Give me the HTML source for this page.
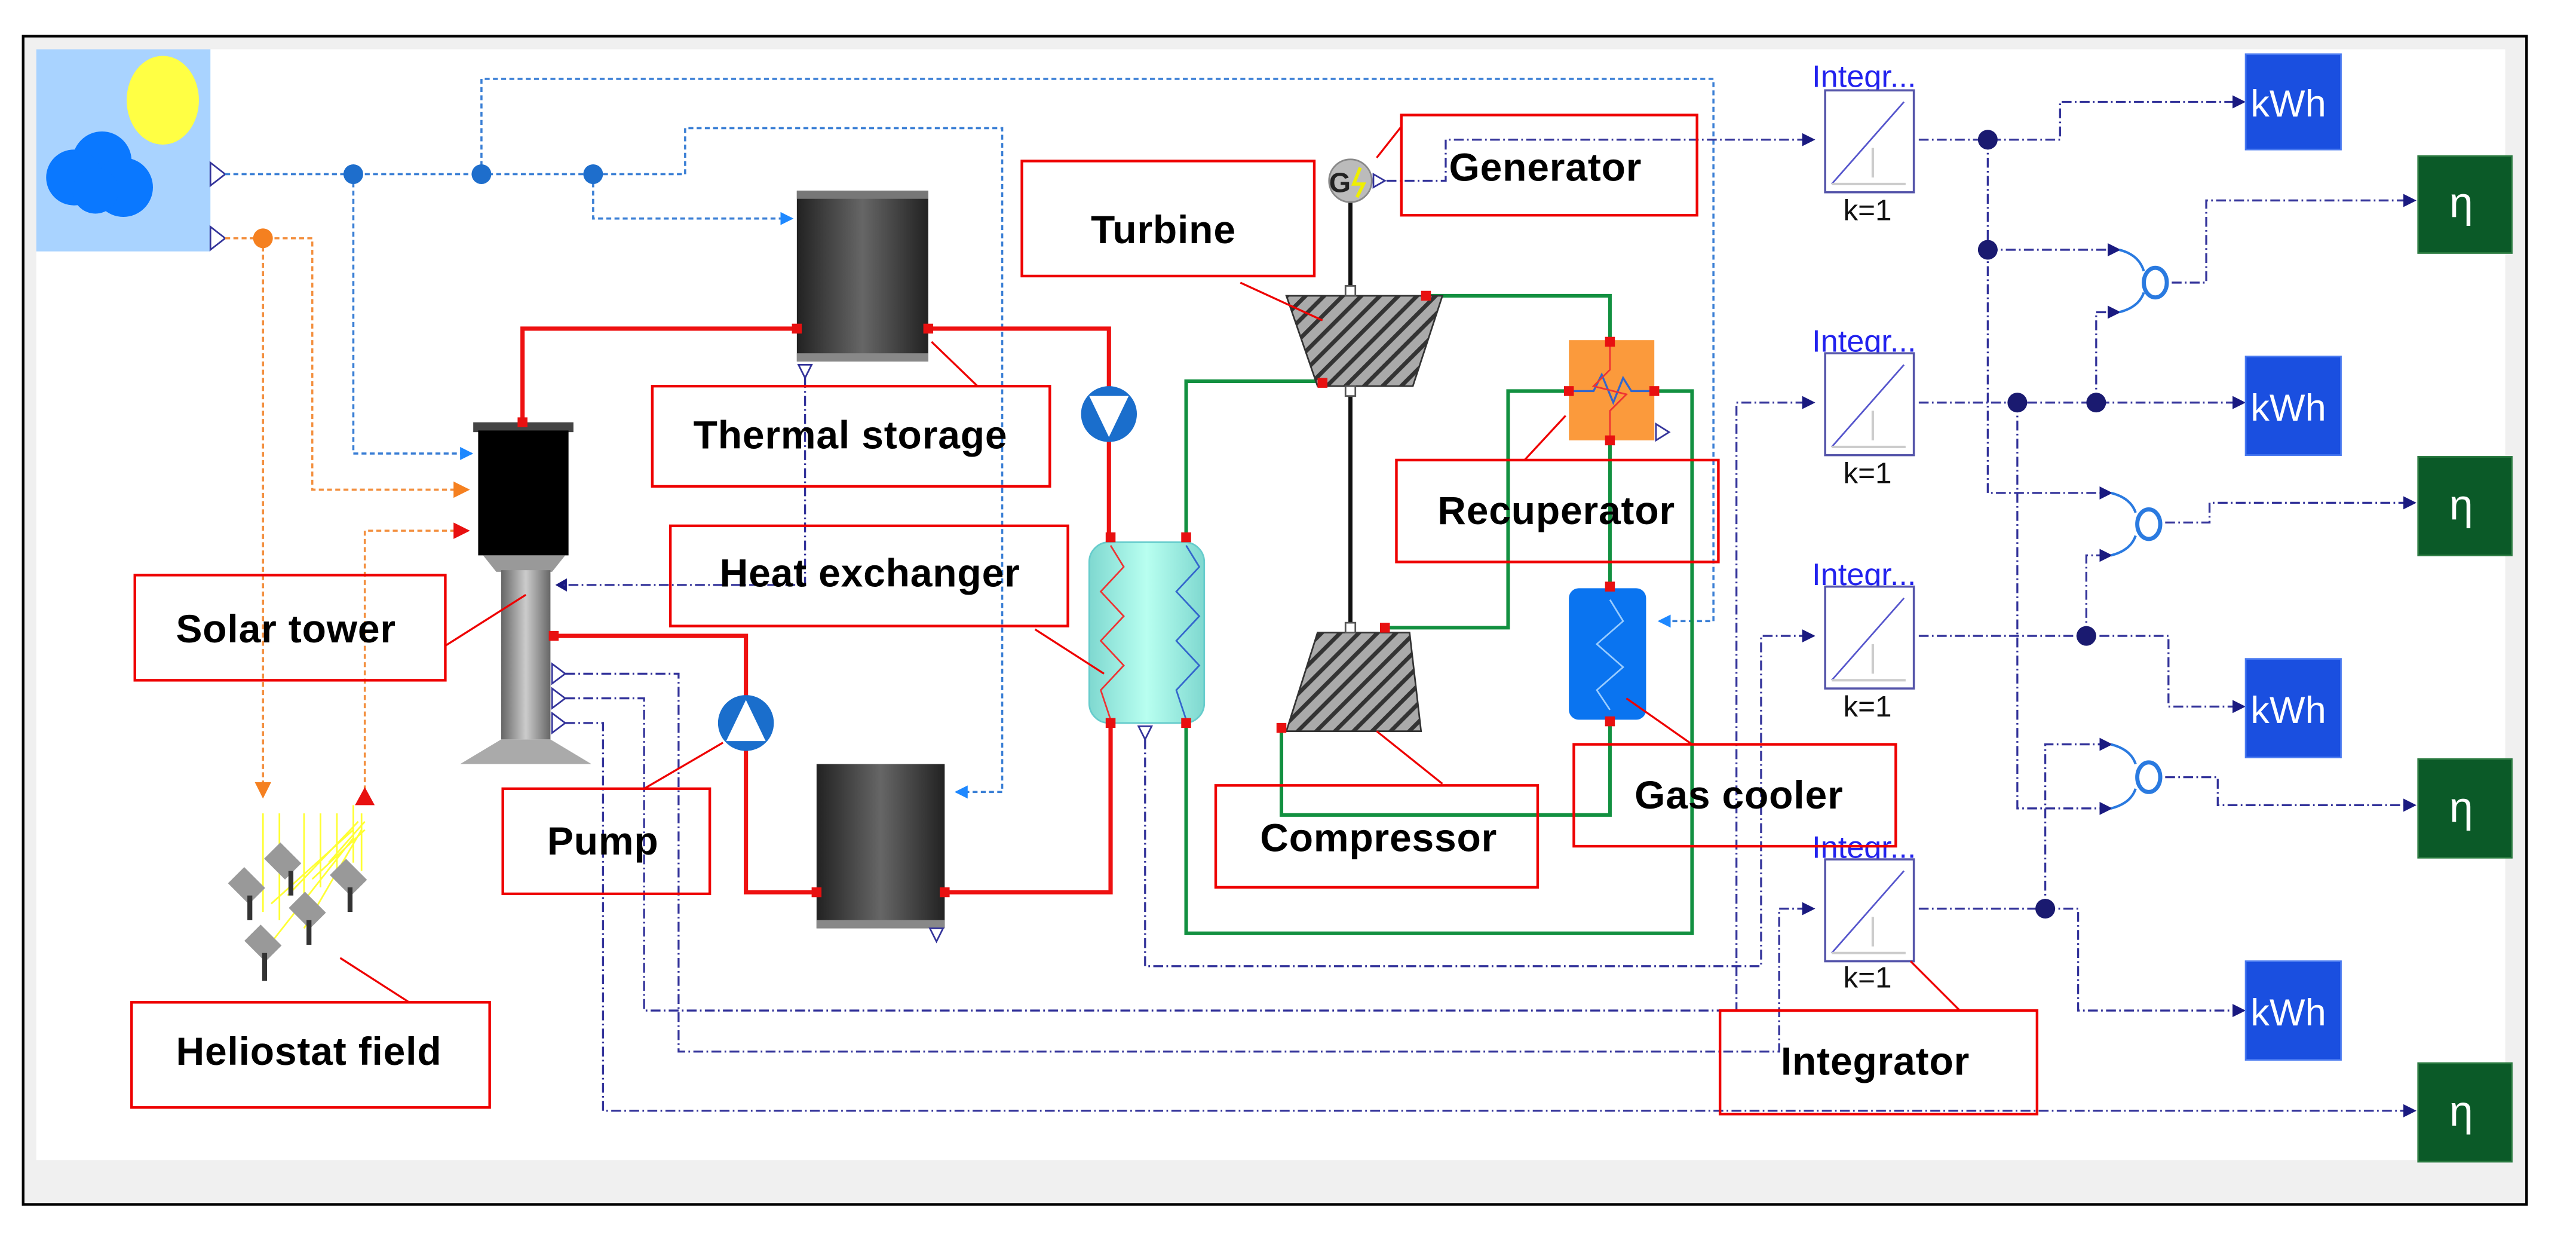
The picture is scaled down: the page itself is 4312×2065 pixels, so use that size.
<!DOCTYPE html>
<html><head><meta charset="utf-8"><style>
html,body{margin:0;padding:0;background:#fff}
svg{display:block}
text{font-family:"Liberation Sans",sans-serif}
.lb{font-weight:bold;font-size:24px;fill:#000;letter-spacing:0.3px}
.box{fill:none;stroke:#e00;stroke-width:1.6}
.ld{stroke:#e00;stroke-width:1.2}
.bd{fill:none;stroke:#3a7fd5;stroke-width:1.3;stroke-dasharray:3,2}
.od{fill:none;stroke:#f39040;stroke-width:1.3;stroke-dasharray:3,2}
.nv{fill:none;stroke:#33339a;stroke-width:1.2;stroke-dasharray:6,2,1,2}
.rd{fill:none;stroke:#ee1111;stroke-width:2.6}
.gr{fill:none;stroke:#129040;stroke-width:2.2}
</style></head><body>
<svg width="4312" height="2065" viewBox="0 0 1568 751" xmlns="http://www.w3.org/2000/svg">
<defs>
<marker id="an" markerWidth="8" markerHeight="8" refX="7" refY="4" orient="auto" markerUnits="userSpaceOnUse"><path d="M0,0L8,4L0,8z" fill="#1a1a80"/></marker>
<marker id="ab" markerWidth="8" markerHeight="8" refX="7" refY="4" orient="auto" markerUnits="userSpaceOnUse"><path d="M0,0L8,4L0,8z" fill="#1e88ff"/></marker>
<marker id="ao" markerWidth="10" markerHeight="10" refX="9" refY="5" orient="auto" markerUnits="userSpaceOnUse"><path d="M0,0L10,5L0,10z" fill="#f58020"/></marker>
<marker id="ar" markerWidth="10" markerHeight="10" refX="9" refY="5" orient="auto" markerUnits="userSpaceOnUse"><path d="M0,0L10,5L0,10z" fill="#e81010"/></marker>
<linearGradient id="tank" x1="0" x2="1"><stop offset="0" stop-color="#222"/><stop offset="0.5" stop-color="#666"/><stop offset="1" stop-color="#222"/></linearGradient>
<linearGradient id="col" x1="0" x2="1"><stop offset="0" stop-color="#666"/><stop offset="0.5" stop-color="#ccc"/><stop offset="1" stop-color="#666"/></linearGradient>
<linearGradient id="hx" x1="0" x2="1"><stop offset="0" stop-color="#7fd8d0"/><stop offset="0.5" stop-color="#b8fff0"/><stop offset="1" stop-color="#7fd8d0"/></linearGradient>
<pattern id="hatch" width="8" height="8" patternUnits="userSpaceOnUse" patternTransform="rotate(45)"><rect width="8" height="8" fill="#aaa"/><rect width="2.5" height="8" fill="#333"/></pattern>
</defs>
<rect x="0" y="0" width="1568" height="751" fill="#fff"/>
<rect x="14" y="22" width="1524" height="711" fill="#f0f0f0" stroke="#000" stroke-width="1.6"/>
<rect x="22" y="30" width="1503" height="676" fill="#fff"/>

<rect x="22" y="30" width="106" height="123" fill="#a9d3ff"/>
<ellipse cx="99" cy="61" rx="22" ry="27" fill="#ffff44"/>
<circle cx="62" cy="98" r="18" fill="#0a78ff"/><circle cx="45" cy="108" r="17" fill="#0a78ff"/><circle cx="75" cy="114" r="18" fill="#0a78ff"/><circle cx="58" cy="116" r="14" fill="#0a78ff"/>
<path d="M128,99L137,106L128,113z" fill="#fff" stroke="#33339a"/>
<path d="M128,138L137,145L128,152z" fill="#fff" stroke="#33339a"/>

<path class="bd" d="M137,106H417V78H610V482H582" marker-end="url(#ab)"/>
<path class="bd" d="M293,106V48H1043V378H1010" marker-end="url(#ab)"/>
<path class="bd" d="M361,106V133H482" marker-end="url(#ab)"/>
<path class="bd" d="M215,106V276H287" marker-end="url(#ab)"/>
<circle cx="215" cy="106" r="6" fill="#1e6ecc"/><circle cx="293" cy="106" r="6" fill="#1e6ecc"/><circle cx="361" cy="106" r="6" fill="#1e6ecc"/>
<path class="od" d="M137,145H190V298H285" marker-end="url(#ao)"/>
<path class="od" d="M160,145V478"/>
<path d="M155,476L165,476L160,486z" fill="#f58020"/>
<path class="od" d="M222,486V323H285" marker-end="url(#ar)"/>
<path d="M216,490L228,490L222,479z" fill="#e81010"/>
<circle cx="160" cy="145" r="6" fill="#f58020"/>

<g stroke="#ffff33" stroke-width="1">
<path d="M160,495V555M170,495V560M185,495V545M195,495V540M205,495V530M215,490V525M220,495V530M165,550L215,505M175,545L218,500M190,535L222,505M200,525L222,500M185,565L220,505M160,580L215,510"/>
</g>
<g fill="#999"><rect x="165" y="515" width="14" height="18" transform="rotate(-45 172 524)"/><rect x="143" y="530" width="14" height="18" transform="rotate(-45 150 539)"/><rect x="205" y="525" width="14" height="18" transform="rotate(-45 212 534)"/><rect x="180" y="545" width="14" height="18" transform="rotate(-45 187 554)"/><rect x="153" y="565" width="14" height="18" transform="rotate(-45 160 574)"/></g>
<g stroke="#333" stroke-width="3"><path d="M177,530V545M152,545V560M213,540V555M188,560V575M161,580V597"/></g>

<path class="rd" d="M485,200H318V258"/>
<path class="rd" d="M565,200H675V238"/>
<path class="rd" d="M675,266V327"/>
<path class="rd" d="M676,440V543H575"/>
<path class="rd" d="M497,543H454V455"/>
<path class="rd" d="M454,425V387H336"/>

<path class="gr" d="M722,327V232H805"/>
<path class="gr" d="M868,180H980V208"/>
<path class="gr" d="M955,238H918V382H843"/>
<path class="gr" d="M1007,238H1030V568H722V440"/>
<path class="gr" d="M980,268V358"/>
<path class="gr" d="M980,438V496H780V443"/>

<rect x="288" y="257" width="61" height="6" fill="#444"/>
<rect x="291" y="262" width="55" height="76" fill="#000"/>
<path d="M294,338H344L336,348H302z" fill="#999"/>
<rect x="305" y="347" width="30" height="103" fill="url(#col)"/>
<path d="M305,450H335L360,465H280z" fill="#aaa"/>
<rect x="315" y="254" width="6" height="6" fill="#e81010"/>
<rect x="334" y="384" width="6" height="6" fill="#e81010"/>
<g fill="#fff" stroke="#33339a"><path d="M336,404L344,410L336,416z"/><path d="M336,419L344,425L336,431z"/><path d="M336,434L344,440L336,446z"/></g>
<path d="M338,356L345,352V360z" fill="#1a1a80"/>

<rect x="485" y="116" width="80" height="104" fill="url(#tank)"/>
<rect x="485" y="116" width="80" height="5" fill="#777"/><rect x="485" y="215" width="80" height="5" fill="#888"/>
<rect x="497" y="465" width="78" height="100" fill="url(#tank)"/>
<rect x="497" y="560" width="78" height="5" fill="#888"/>
<g fill="#e81010"><rect x="482" y="197" width="6" height="6"/><rect x="562" y="197" width="6" height="6"/><rect x="494" y="540" width="6" height="6"/><rect x="572" y="540" width="6" height="6"/></g>
<path d="M486,222H494L490,230z" fill="#fff" stroke="#33339a"/>
<path d="M566,565H574L570,573z" fill="#fff" stroke="#33339a"/>

<circle cx="675" cy="252" r="17" fill="#1a6ecc"/><path d="M663,241L687,241L675,266z" fill="#fff"/>
<circle cx="454" cy="440" r="17" fill="#1a6ecc"/><path d="M442,451L466,451L454,426z" fill="#fff"/>

<rect x="663" y="330" width="70" height="110" rx="12" fill="url(#hx)" stroke="#6cc" stroke-width="1"/>
<path d="M676,332L684,345L670,360L684,375L670,390L684,405L670,420L676,438" fill="none" stroke="#e33" stroke-width="1"/>
<path d="M722,332L730,345L716,360L730,375L716,390L730,405L716,420L722,438" fill="none" stroke="#36c" stroke-width="1"/>
<g fill="#e81010"><rect x="673" y="324" width="6" height="6"/><rect x="719" y="324" width="6" height="6"/><rect x="673" y="437" width="6" height="6"/><rect x="719" y="437" width="6" height="6"/></g>
<path d="M693,442H701L697,450z" fill="#fff" stroke="#33339a"/>

<path d="M822,120V180M822,235V385" stroke="#111" stroke-width="2.5"/>
<path d="M783,180H878L860,235H802z" fill="url(#hatch)" stroke="#333"/>
<path d="M802,385H858L865,445H783z" fill="url(#hatch)" stroke="#333"/>
<rect x="819" y="174" width="6" height="6" fill="#fff" stroke="#555"/>
<rect x="819" y="235" width="6" height="6" fill="#fff" stroke="#555"/>
<rect x="819" y="379" width="6" height="6" fill="#fff" stroke="#555"/>
<g fill="#e81010"><rect x="865" y="177" width="6" height="6"/><rect x="802" y="230" width="6" height="6"/><rect x="840" y="379" width="6" height="6"/><rect x="777" y="440" width="6" height="6"/></g>
<circle cx="822" cy="110" r="13" fill="#bbb" stroke="#888"/>
<text x="809" y="117" font-size="17" font-weight="bold" fill="#222">G</text>
<path d="M828,102L824,112L830,112L826,120" stroke="#ee0" stroke-width="2" fill="none"/>
<path d="M836,106L843,110L836,114z" fill="#fff" stroke="#33339a"/>

<rect x="955" y="207" width="52" height="61" fill="#fb9a3c"/>
<path d="M955,238H970L975,228L982,245L988,230L993,238H1007" fill="none" stroke="#36c" stroke-width="1.2"/>
<path d="M980,210V225L970,235L990,240L980,250V266" fill="none" stroke="#e33" stroke-width="1"/>
<g fill="#e81010"><rect x="977" y="205" width="6" height="6"/><rect x="952" y="235" width="6" height="6"/><rect x="1004" y="235" width="6" height="6"/><rect x="977" y="265" width="6" height="6"/></g>
<path d="M1008,258L1016,263L1008,268z" fill="#fff" stroke="#33339a"/>
<rect x="955" y="358" width="47" height="80" rx="6" fill="#0a74f0"/>
<path d="M980,365L988,378L972,392L988,406L972,420L980,432" fill="none" stroke="#9cf" stroke-width="1"/>
<g fill="#e81010"><rect x="977" y="354" width="6" height="6"/><rect x="977" y="436" width="6" height="6"/></g>

<path class="nv" d="M844,110H880V85H1104" marker-end="url(#an)"/>
<path class="nv" d="M490,230V356H342"/>
<path class="nv" d="M344,410H413V640H1083V553H1104" marker-end="url(#an)"/>
<path class="nv" d="M344,425H392V615H1057V245H1104" marker-end="url(#an)"/>
<path class="nv" d="M344,440H367V676H1470" marker-end="url(#an)"/>
<path class="nv" d="M697,450V588H1072V387H1104" marker-end="url(#an)"/>

<path class="nv" d="M1168,85H1254V62H1366" marker-end="url(#an)"/>
<path class="nv" d="M1210,85V300H1285" marker-end="url(#an)"/>
<path class="nv" d="M1210,152H1290" marker-end="url(#an)"/>
<path class="nv" d="M1168,245H1366" marker-end="url(#an)"/>
<path class="nv" d="M1276,245V190H1290" marker-end="url(#an)"/>
<path class="nv" d="M1228,245V492H1285" marker-end="url(#an)"/>
<path class="nv" d="M1322,172H1343V122H1470" marker-end="url(#an)"/>
<path class="nv" d="M1168,387H1320V430H1366" marker-end="url(#an)"/>
<path class="nv" d="M1270,387V338H1285" marker-end="url(#an)"/>
<path class="nv" d="M1318,318H1345V306H1470" marker-end="url(#an)"/>
<path class="nv" d="M1168,553H1265V615H1366" marker-end="url(#an)"/>
<path class="nv" d="M1245,553V453H1285" marker-end="url(#an)"/>
<path class="nv" d="M1318,473H1350V490H1470" marker-end="url(#an)"/>
<g fill="#1a1a70"><circle cx="1210" cy="85" r="6"/><circle cx="1210" cy="152" r="6"/><circle cx="1228" cy="245" r="6"/><circle cx="1276" cy="245" r="6"/><circle cx="1270" cy="387" r="6"/><circle cx="1245" cy="553" r="6"/></g>

<g fill="none" stroke="#2a7ae0" stroke-width="1.5">
<path d="M1290,152Q1302,155 1305,165M1290,190Q1302,187 1305,178"/><ellipse cx="1312" cy="172" rx="7" ry="9" stroke-width="2.5"/>
<path d="M1285,300Q1297,303 1300,312M1285,338Q1297,335 1300,326"/><ellipse cx="1308" cy="319" rx="7" ry="9" stroke-width="2.5"/>
<path d="M1285,453Q1297,456 1300,465M1285,492Q1297,489 1300,480"/><ellipse cx="1308" cy="473" rx="7" ry="9" stroke-width="2.5"/>
</g>

<g font-size="19" fill="#2222ee">
<text x="1103" y="53">Integr...</text><text x="1103" y="214">Integr...</text><text x="1103" y="356">Integr...</text><text x="1103" y="522">Integr...</text>
</g>
<g fill="#fff" stroke="#5555aa" stroke-width="1.3">
<rect x="1111" y="55" width="54" height="62"/><rect x="1111" y="215" width="54" height="62"/><rect x="1111" y="357" width="54" height="62"/><rect x="1111" y="523" width="54" height="62"/>
</g>
<g stroke="#5555cc" stroke-width="1"><path d="M1115,112L1159,62M1115,272L1159,222M1115,414L1159,364M1115,580L1159,530"/></g>
<g stroke="#ccc" stroke-width="1.5"><path d="M1115,112H1160M1115,272H1160M1115,414H1160M1115,580H1160M1140,108V90M1140,268V250M1140,410V392M1140,576V558"/></g>
<g font-size="18" fill="#111"><text x="1122" y="134">k=1</text><text x="1122" y="294">k=1</text><text x="1122" y="436">k=1</text><text x="1122" y="601">k=1</text></g>

<g fill="#1a4fe0" stroke="#4a7af0"><rect x="1367" y="33" width="58" height="58"/><rect x="1367" y="217" width="58" height="60"/><rect x="1367" y="401" width="58" height="60"/><rect x="1367" y="585" width="58" height="60"/></g>
<g font-size="23" fill="#fff"><text x="1370" y="71">kWh</text><text x="1370" y="256">kWh</text><text x="1370" y="440">kWh</text><text x="1370" y="624">kWh</text></g>
<g fill="#0b5a28" stroke="#2a7a40"><rect x="1472" y="95" width="57" height="59"/><rect x="1472" y="278" width="57" height="60"/><rect x="1472" y="462" width="57" height="60"/><rect x="1472" y="647" width="57" height="60"/></g>
<g font-size="26" fill="#fff"><text x="1491" y="132">η</text><text x="1491" y="316">η</text><text x="1491" y="500">η</text><text x="1491" y="685">η</text></g>

<rect class="box" x="622" y="98" width="178" height="70"/><text class="lb" x="664" y="148">Turbine</text>
<rect class="box" x="853" y="70" width="180" height="61"/><text class="lb" x="882" y="110">Generator</text>
<rect class="box" x="397" y="235" width="242" height="61"/><text class="lb" x="422" y="273">Thermal storage</text>
<rect class="box" x="408" y="320" width="242" height="61"/><text class="lb" x="438" y="357">Heat exchanger</text>
<rect class="box" x="82" y="350" width="189" height="64"/><text class="lb" x="107" y="391">Solar tower</text>
<rect class="box" x="306" y="480" width="126" height="64"/><text class="lb" x="333" y="520">Pump</text>
<rect class="box" x="740" y="478" width="196" height="62"/><text class="lb" x="767" y="518">Compressor</text>
<rect class="box" x="850" y="280" width="196" height="62"/><text class="lb" x="875" y="319">Recuperator</text>
<rect class="box" x="958" y="453" width="196" height="62"/><text class="lb" x="995" y="492">Gas cooler</text>
<rect class="box" x="1047" y="615" width="193" height="63"/><text class="lb" x="1084" y="654">Integrator</text>
<rect class="box" x="80" y="610" width="218" height="64"/><text class="lb" x="107" y="648">Heliostat field</text>
<g class="ld"><path d="M853,77L838,96M567,208L595,235M630,383L672,410M271,393L320,362M392,480L440,452M838,445L878,477M928,280L953,253M990,425L1030,453M1163,585L1193,615M207,583L249,610M755,172L805,195"/></g>
</svg>
</body></html>
